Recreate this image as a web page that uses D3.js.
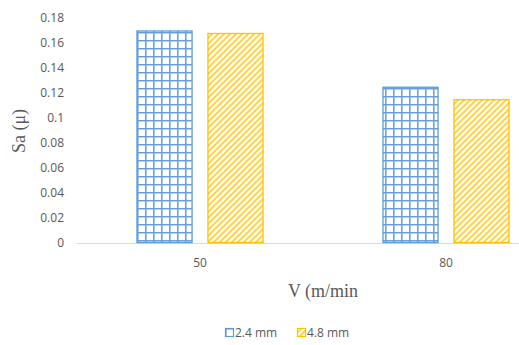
<!DOCTYPE html>
<html><head><meta charset="utf-8">
<script src="https://cdn.jsdelivr.net/npm/d3@7"></script>
<style>body{margin:0;background:#fff;} svg{display:block;}</style>
</head><body>
<svg id="c" width="519" height="345"></svg>
<script>
const categories = ["50", "80"];
const seriesNames = ["2.4 mm", "4.8 mm"];
const values24 = [0.170, 0.125];
const values48 = [0.168, 0.115];
const yTicks = [0, 0.02, 0.04, 0.06, 0.08, 0.1, 0.12, 0.14, 0.16, 0.18];

const svg = d3.select("#c");
const defs = svg.append("defs");
// grid pattern (blue)
const pg = defs.append("pattern").attr("id","grid").attr("patternUnits","userSpaceOnUse")
  .attr("width",8).attr("height",8).attr("x",137).attr("y",0);
pg.append("rect").attr("width",8).attr("height",8).attr("fill","#fff");
pg.append("path").attr("d","M0,0.75H8M0.75,0V8").attr("stroke","#6a9fd8").attr("stroke-width",1.6);
// diagonal pattern (yellow)
const pd = defs.append("pattern").attr("id","diag").attr("patternUnits","userSpaceOnUse")
  .attr("width",6).attr("height",6);
pd.append("rect").attr("width",6).attr("height",6).attr("fill","#fff");
pd.append("path").attr("d","M-1,7L7,-1M-4,4L4,-4M2,10L10,2").attr("stroke","#ffcf40").attr("stroke-width",1.8);

const colors = ["#5b9bd5", "#ffc000"];
const fills = ["url(#grid)", "url(#diag)"];

const y = d3.scaleLinear().domain([0, 0.18]).range([243, 18]);
const x0 = d3.scaleBand().domain(categories).range([77, 569]);
const bw = x0.bandwidth();
const x1 = d3.scaleBand().domain(seriesNames).range([bw*0.2418, bw*0.7582]).paddingInner(0.21);

// y tick labels
const yAxis = d3.axisLeft(y).tickValues(yTicks).tickSize(0).tickPadding(0)
  .tickFormat(d => d === 0 ? "0" : d3.format("")(+d.toFixed(2)));
const gy = svg.append("g").attr("transform","translate(64,0)").call(yAxis);
gy.select(".domain").remove();
gy.selectAll("text").attr("font-family","'Open Sans', sans-serif").attr("font-size",12).attr("fill","#595959");

// x axis
const xAxis = d3.axisBottom(x0).tickSize(0).tickPadding(15);
const gx = svg.append("g").attr("transform","translate(0,243)").call(xAxis);
gx.select(".domain").remove();
gx.selectAll("text").attr("font-family","'Open Sans', sans-serif").attr("font-size",12).attr("fill","#595959");
svg.append("line").attr("x1",77).attr("x2",519).attr("y1",243.5).attr("y2",243.5).attr("stroke","#d9d9d9").attr("stroke-width",1);

// bars
const allValues = [values24, values48];
seriesNames.forEach((s, si) => {
  svg.append("g").selectAll("rect").data(categories).join("rect")
    .attr("x", c => x0(c) + x1(s) + 0.5)
    .attr("y", (c, i) => y(allValues[si][i]) + 0.5)
    .attr("width", x1.bandwidth() - 1)
    .attr("height", (c, i) => y(0) - y(allValues[si][i]) - 1)
    .attr("fill", fills[si]).attr("stroke", colors[si]).attr("stroke-width", 1.3);
});

// axis titles
svg.append("text").attr("transform","translate(25,131) rotate(-90)").attr("text-anchor","middle")
  .attr("font-family","'Liberation Serif', serif").attr("font-size",18).attr("fill","#595959").text("Sa (μ)");
svg.append("text").attr("x",323).attr("y",297).attr("text-anchor","middle")
  .attr("font-family","'Liberation Serif', serif").attr("font-size",18).attr("fill","#595959").text("V (m/min");

// legend
const leg = svg.append("g");
const legX = [225, 297];
seriesNames.forEach((s, si) => {
  leg.append("rect").attr("x", legX[si]+0.5).attr("y", 328.5).attr("width", 8).attr("height", 8)
    .attr("fill", fills[si]).attr("stroke", colors[si]).attr("stroke-width", 1.2);
  leg.append("text").attr("x", legX[si] + 10).attr("y", 337).attr("font-family","'Open Sans', sans-serif")
    .attr("font-size", 12).attr("fill", "#595959").text(s);
});
</script>
</body></html>
